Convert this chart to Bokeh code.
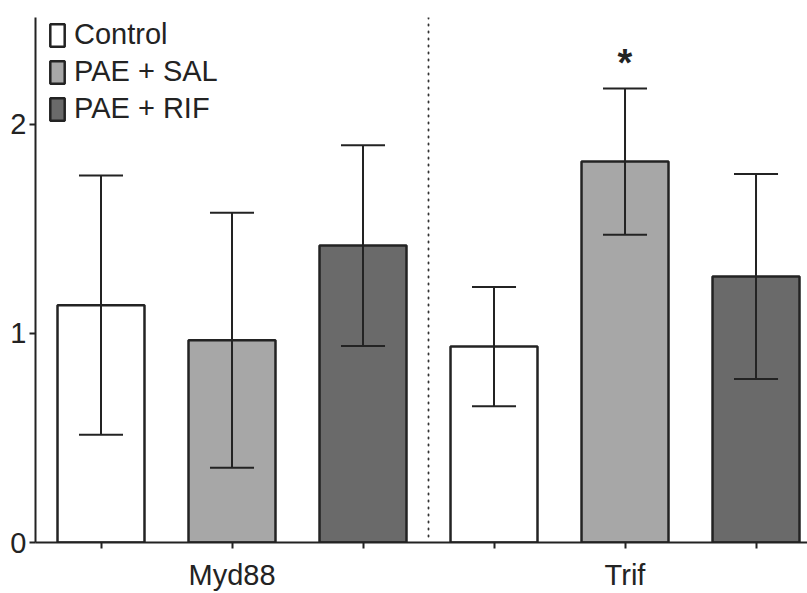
from bokeh.plotting import figure
from bokeh.models import ColumnDataSource, Legend, LegendItem, Span, FixedTicker
from bokeh.core.properties import value
from bokeh.embed import file_html
from bokeh.resources import INLINE

genes = ["Myd88", "Trif"]
treatments = ["Control", "PAE + SAL", "PAE + RIF"]
colors = ["#ffffff", "#a7a7a7", "#6a6a6a"]
# means[treatment][gene]
means = {
    "Control":   [1.135, 0.937],
    "PAE + SAL": [0.967, 1.822],
    "PAE + RIF": [1.420, 1.272],
}
errs = {
    "Control":   [0.620, 0.285],
    "PAE + SAL": [0.610, 0.350],
    "PAE + RIF": [0.480, 0.490],
}
signif = {
    "Control":   ["", ""],
    "PAE + SAL": ["", "*"],
    "PAE + RIF": ["", ""],
}
yticks = [0, 1, 2]

FONT = "Liberation Sans"
DARK = "#232323"
FS = "29px"
n_t = len(treatments)

p = figure(width=807, height=593, x_range=(-0.5, 5.393), y_range=(0, 2.511),
           output_backend="svg", toolbar_location=None,
           min_border_left=35, min_border_right=0, min_border_top=17, min_border_bottom=50)
p.outline_line_color = None
p.xgrid.grid_line_color = None
p.ygrid.grid_line_color = None
p.background_fill_color = "white"
p.border_fill_color = "white"

items = []
cap = 0.168
for ti, t in enumerate(treatments):
    xs = [gi * n_t + ti for gi in range(len(genes))]
    m = means[t]
    e = errs[t]
    src = ColumnDataSource(dict(
        x=xs, top=m,
        lo=[a - b for a, b in zip(m, e)],
        hi=[a + b for a, b in zip(m, e)],
        xl=[x - cap for x in xs], xr=[x + cap for x in xs],
        lab=signif[t],
        ly=[a + b + 0.14 for a, b in zip(m, e)],
    ))
    r = p.vbar(x="x", top="top", width=0.664, bottom=0, source=src,
               fill_color=colors[ti], line_color=DARK, line_width=2.5)
    items.append(LegendItem(label=t, renderers=[r]))
    p.segment(x0="x", y0="lo", x1="x", y1="hi", source=src, line_color=DARK, line_width=2)
    p.segment(x0="xl", y0="hi", x1="xr", y1="hi", source=src, line_color=DARK, line_width=2)
    p.segment(x0="xl", y0="lo", x1="xr", y1="lo", source=src, line_color=DARK, line_width=2)
    p.text(x="x", y="ly", text="lab", source=src, text_font=value(FONT),
           text_font_size="38px", text_font_style="bold", text_color=DARK,
           text_align="center", text_baseline="middle", y_offset=4)

p.add_layout(Span(location=(len(genes) * n_t - 1) / 2, dimension="height",
                  line_color="#333333", line_width=1.8, line_dash="1 6", line_cap="round"))

leg = Legend(items=items, location=(13, 417), padding=0, margin=0, spacing=4,
             glyph_width=18, glyph_height=28, label_standoff=8,
             label_text_font=FONT, label_text_font_size=FS, label_text_color=DARK,
             border_line_color=None, background_fill_alpha=0)
p.add_layout(leg)

# axes
tick_pos = list(range(len(genes) * n_t))
overrides = {i: "" for i in tick_pos}
for gi, g in enumerate(genes):
    overrides[gi * n_t + (n_t - 1) // 2] = g
p.xaxis.ticker = FixedTicker(ticks=tick_pos, minor_ticks=[])
p.xaxis.major_label_overrides = overrides
p.yaxis.ticker = FixedTicker(ticks=yticks, minor_ticks=[])

for ax in (p.xaxis, p.yaxis):
    ax.axis_line_color = DARK
    ax.axis_line_width = 2
    ax.major_tick_line_color = DARK
    ax.major_tick_line_width = 2
    ax.major_tick_in = 0
    ax.major_tick_out = 6
    ax.minor_tick_line_color = None
    ax.major_label_text_font = FONT
    ax.major_label_text_font_size = FS
    ax.major_label_text_color = DARK
p.xaxis.major_label_standoff = 10
p.yaxis.major_label_standoff = 3

open("out.html", "w").write(file_html(p, INLINE))
